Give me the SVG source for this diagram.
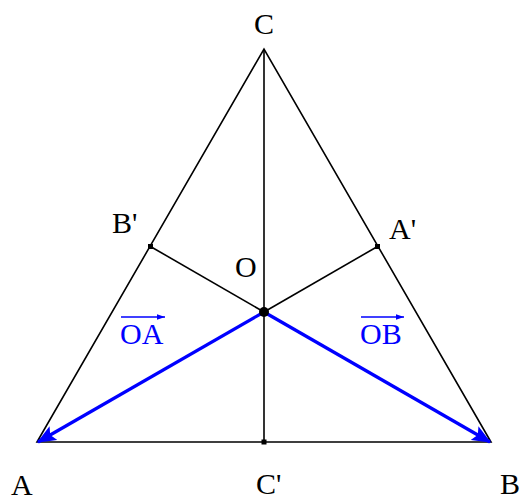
<svg xmlns="http://www.w3.org/2000/svg" width="521" height="504" viewBox="0 0 521 504">
<style>
.ln{stroke:#000;stroke-width:1.6;fill:none}
.vec{stroke:#0000ff;stroke-width:3.2;fill:none}
.bar{stroke:#0000ff;stroke-width:1.4;fill:none}
.t{font-family:"Liberation Serif",serif;font-size:30px;fill:#000}
.tb{font-family:"Liberation Serif",serif;font-size:30px;fill:#0000ff}
.pt{fill:#000}
</style>
<defs>
<marker id="ah" markerWidth="6" markerHeight="5" refX="5.6" refY="2.5" orient="auto" markerUnits="strokeWidth">
<path d="M0,0 L6,2.5 L0,5 L1.2,2.5 Z" fill="#0000ff"/>
</marker>
<marker id="ahs" markerWidth="6" markerHeight="4" refX="6" refY="2" orient="auto" markerUnits="strokeWidth">
<path d="M0,0 L6,2 L0,4 Z" fill="#0000ff"/>
</marker>
</defs>
<g id="connectors">
<path class="ln" d="M37,442 L491,442 L264,49 Z"/>
<line class="ln" x1="264" y1="49" x2="264" y2="442"/>
<line class="ln" x1="150.5" y1="246.5" x2="264" y2="312"/>
<line class="ln" x1="377.5" y1="246.5" x2="264" y2="312"/>
<line class="vec" x1="264" y1="312" x2="38" y2="442" marker-end="url(#ah)"/>
<line class="vec" x1="264" y1="312" x2="490" y2="442" marker-end="url(#ah)"/>
</g>
<g id="A"><text class="t" x="11" y="495">A</text></g>
<g id="B"><text class="t" x="500" y="494">B</text></g>
<g id="C"><text class="t" x="264" y="34" text-anchor="middle">C</text></g>
<g id="O"><circle class="pt" cx="264" cy="312" r="5"/><text class="t" x="235" y="277">O</text></g>
<g id="Cp"><rect class="pt" x="261.5" y="439.5" width="5" height="5"/><text class="t" x="256" y="494">C'</text></g>
<g id="Bp"><rect class="pt" x="148" y="244" width="5" height="5"/><text class="t" x="112" y="233">B'</text></g>
<g id="Ap"><rect class="pt" x="375" y="244" width="5" height="5"/><text class="t" x="389" y="239">A'</text></g>
<g id="OA"><line class="bar" x1="121" y1="317" x2="165" y2="317" marker-end="url(#ahs)"/><text class="tb" x="120" y="344">OA</text></g>
<g id="OB"><line class="bar" x1="361" y1="317" x2="404" y2="317" marker-end="url(#ahs)"/><text class="tb" x="360" y="344">OB</text></g>
</svg>
